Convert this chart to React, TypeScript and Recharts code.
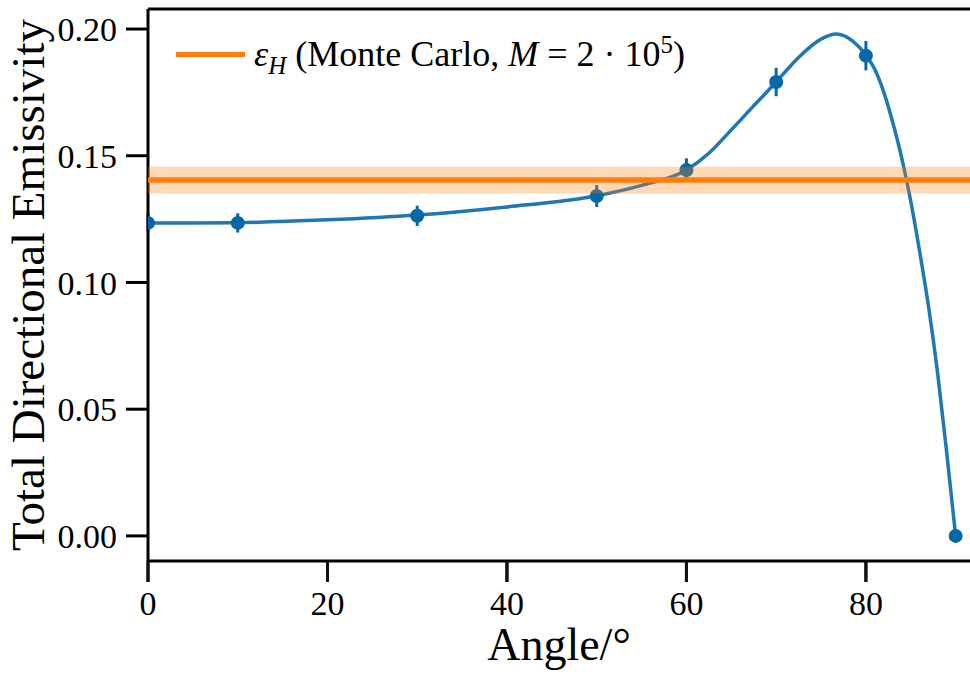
import {
  ComposedChart,
  Line,
  Scatter,
  ErrorBar,
  XAxis,
  YAxis,
  ReferenceArea,
  ReferenceLine,
  Legend
} from 'recharts';

const FONT = '"Liberation Serif", "DejaVu Serif", serif';
const BLUE_LINE = '#1f77b4';
const BLUE_MARK = '#0868a5';
const ORANGE = '#ff7f0e';

// measured total directional emissivity with its standard error
const angles = [0, 10, 30, 50, 60, 70, 80, 90];
const emissivity = [0.1235, 0.1235, 0.1263, 0.1341, 0.1444, 0.1791, 0.1895, 0];
const emissivityErr = [0.0037, 0.0038, 0.004, 0.0043, 0.0046, 0.0056, 0.0058, 0];

// smooth fit through the measurements
const fitAngles = [
  0, 5, 10, 20, 30, 40, 50, 55, 60, 62.5, 65, 67.5, 70, 72.5, 75, 76.7, 78.5, 80,
  81, 82, 83, 84, 85, 86, 87, 88, 89, 90
];
const fitValues = [
  0.1235, 0.1235, 0.1236, 0.1247, 0.1266, 0.1298, 0.1342, 0.1383, 0.1444, 0.1510,
  0.1602, 0.1697, 0.1791, 0.1888, 0.196, 0.198, 0.1953, 0.1897, 0.184, 0.175, 0.163,
  0.149, 0.132, 0.112, 0.09, 0.064, 0.033, 0
];

// hemispherical emissivity from the Monte Carlo run
const mcHemispherical = 0.1404;
const mcErr = 0.0053;

const xTicks = [0, 20, 40, 60, 80];
const yTicks = [0, 0.05, 0.1, 0.15, 0.2];
const xDomain = [0, 91.6];
const yDomain = [-0.0099, 0.2079];

const measured = angles.map((angle, i) => ({
  angle,
  value: emissivity[i],
  err: emissivityErr[i]
}));
const fit = fitAngles.map((angle, i) => ({ angle, fit: fitValues[i] }));

const X_TICK_SIZE = 21;
const X_TICK_MARGIN = 9;

const tickStyle = { fontFamily: FONT, fontSize: 34, fill: '#000' };
const axisLine = { stroke: '#000', strokeWidth: 3 };
const tickLine = { stroke: '#000', strokeWidth: 3 };

// x tick: draws its own mark below the axis plus the label
const XTick = (props: any) => {
  const { x, y, payload } = props;
  return (
    <g>
      <line
        x1={x}
        x2={x}
        y1={y - X_TICK_MARGIN - X_TICK_SIZE}
        y2={y - X_TICK_MARGIN}
        stroke="#111"
        strokeWidth={3}
      />
      <text x={x} y={y} dy={24} textAnchor="middle" {...tickStyle}>
        {payload.value}
      </text>
    </g>
  );
};

const LegendBox = () => (
  <div
    style={{
      display: 'flex',
      alignItems: 'center',
      fontFamily: FONT,
      fontSize: 36,
      lineHeight: 1,
      whiteSpace: 'nowrap',
      color: '#000'
    }}>
    <span
      style={{
        display: 'inline-block',
        width: 69,
        height: 5,
        background: ORANGE,
        marginRight: 9
      }}
    />
    <span>
      <i>ε</i>
      <i style={{ fontSize: 25, position: 'relative', top: 8 }}>H</i>
      {' (Monte Carlo, '}
      <i>M</i>
      {' = 2 · 10'}
      <span style={{ fontSize: 25, position: 'relative', top: -13 }}>5</span>
      {')'}
    </span>
  </div>
);

export default function App() {
  return (
    <div style={{ position: 'absolute', left: 0, top: 0 }}>
      <ComposedChart
        width={970}
        height={678}
        margin={{ top: 9, right: 0, bottom: 0, left: 0 }}>
        <XAxis
          type="number"
          dataKey="angle"
          domain={xDomain}
          ticks={xTicks}
          allowDataOverflow
          height={117}
          tick={<XTick />}
          tickSize={X_TICK_SIZE}
          tickMargin={X_TICK_MARGIN}
          axisLine={axisLine}
          tickLine={tickLine}
          label={{
            value: 'Angle/°',
            position: 'insideBottom',
            offset: 18,
            style: { fontFamily: FONT, fontSize: 46, fill: '#000' }
          }}
        />
        <YAxis
          type="number"
          domain={yDomain}
          ticks={yTicks}
          allowDataOverflow
          width={148}
          tick={tickStyle}
          tickSize={22}
          tickMargin={9}
          tickFormatter={(v: number) => v.toFixed(2)}
          axisLine={axisLine}
          tickLine={tickLine}
          label={{
            value: 'Total Directional Emissivity',
            angle: -90,
            position: 'insideLeft',
            offset: 27,
            style: { fontFamily: FONT, fontSize: 47, fill: '#000', textAnchor: 'middle' }
          }}
        />
        {/* top spine */}
        <ReferenceLine y={yDomain[1]} stroke="#000" strokeWidth={3} />
        <Line
          data={fit}
          dataKey="fit"
          type="monotone"
          stroke={BLUE_LINE}
          strokeWidth={3.5}
          dot={false}
          isAnimationActive={false}
          legendType="none"
        />
        <Scatter
          data={measured}
          dataKey="value"
          fill={BLUE_MARK}
          shape={(p: any) => <circle cx={p.cx} cy={p.cy} r={7} fill={BLUE_MARK} />}
          isAnimationActive={false}
          legendType="none">
          <ErrorBar
            dataKey="err"
            direction="y"
            width={0}
            stroke={BLUE_MARK}
            strokeWidth={3}
            isAnimationActive={false}
          />
        </Scatter>
        <ReferenceArea
          y1={mcHemispherical - mcErr}
          y2={mcHemispherical + mcErr}
          fill={ORANGE}
          fillOpacity={0.3}
          stroke="none"
          zIndex={700}
        />
        <ReferenceLine
          y={mcHemispherical}
          stroke={ORANGE}
          strokeWidth={5.5}
          zIndex={701}
        />
        <Legend
          layout="vertical"
          align="center"
          verticalAlign="middle"
          wrapperStyle={{ left: 176, top: 36, width: 'auto' }}
          content={() => <LegendBox />}
        />
      </ComposedChart>
    </div>
  );
}
